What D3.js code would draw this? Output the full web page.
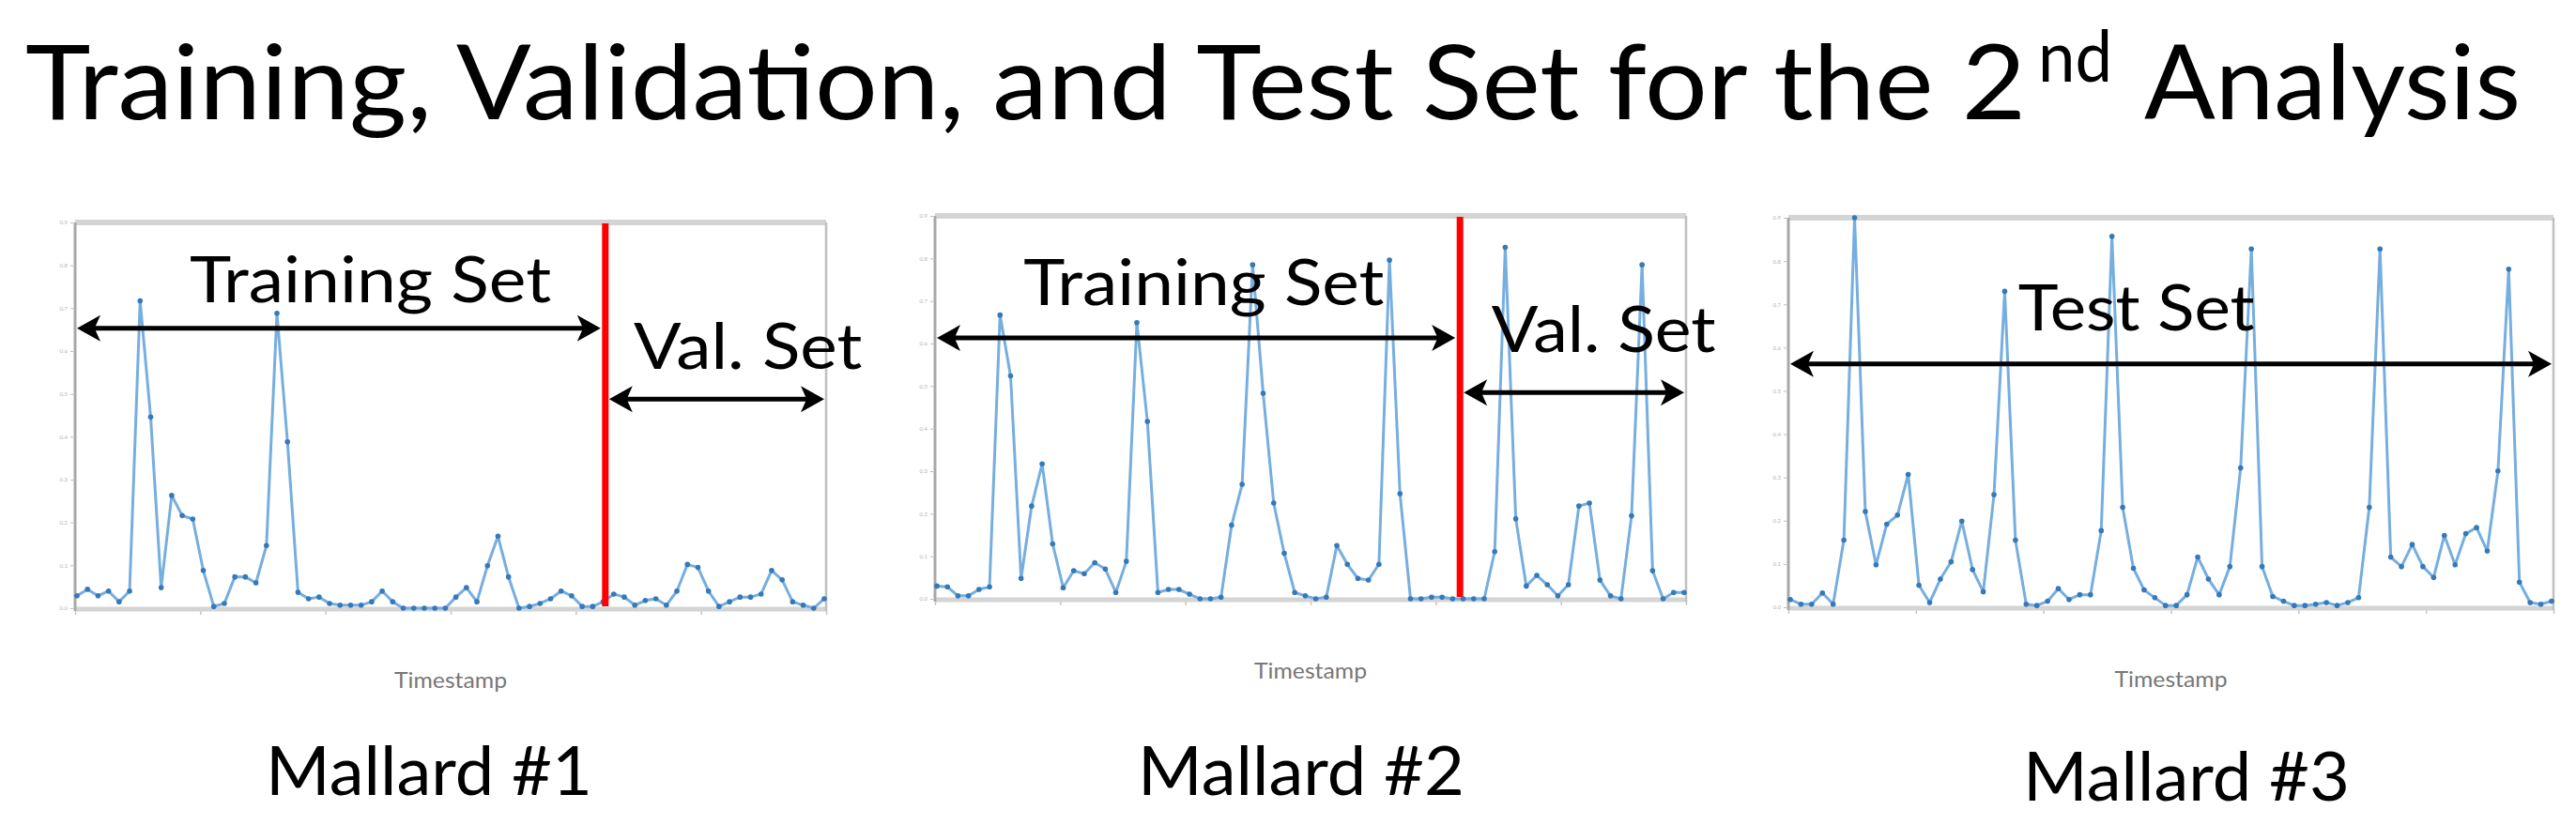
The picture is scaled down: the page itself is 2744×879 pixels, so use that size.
<!DOCTYPE html>
<html>
<head>
<meta charset="utf-8">
<script src="https://cdn.jsdelivr.net/npm/d3@7"></script>
<style>
  body { margin: 0; background: #fff; }
  text { font-family: Lato, "Open Sans", "Noto Sans", sans-serif; }
</style>
</head>
<body>
<div id="chart"></div>
<script>
// --- Données (72 points par canard, échelle 0–9) ---
const mallard1 = [0.29, 0.44, 0.29, 0.40, 0.15, 0.40, 7.17, 4.46, 0.48, 2.63, 2.16, 2.08,
  0.88, 0.04, 0.11, 0.73, 0.73, 0.59, 1.46, 6.88, 3.88, 0.37, 0.22, 0.26,
  0.11, 0.07, 0.07, 0.07, 0.15, 0.40, 0.15, 0, 0, 0, 0, 0,
  0.26, 0.48, 0.15, 0.99, 1.68, 0.73, 0, 0.04, 0.11, 0.22, 0.40, 0.29,
  0.04, 0.04, 0.15, 0.33, 0.26, 0.07, 0.18, 0.22, 0.07, 0.40, 1.02, 0.95,
  0.40, 0.04, 0.15, 0.26, 0.26, 0.33, 0.88, 0.66, 0.15, 0.07, 0, 0.22];

const mallard2 = [0.30, 0.28, 0.07, 0.07, 0.22, 0.28, 6.67, 5.24, 0.48, 2.18, 3.17, 1.29,
  0.26, 0.66, 0.59, 0.85, 0.70, 0.15, 0.88, 6.49, 4.17, 0.15, 0.22, 0.22,
  0.11, 0, 0, 0.04, 1.73, 2.69, 7.85, 4.83, 2.25, 1.07, 0.15, 0.07,
  0, 0.04, 1.25, 0.81, 0.48, 0.44, 0.81, 7.96, 2.47, 0, 0, 0.04,
  0.04, 0, 0, 0, 0, 1.11, 8.26, 1.88, 0.30, 0.55, 0.33, 0.07,
  0.33, 2.18, 2.25, 0.44, 0.07, 0, 1.95, 7.85, 0.66, 0, 0.15, 0.15];

const mallard3 = [0.18, 0.07, 0.07, 0.33, 0.07, 1.55, 9.0, 2.21, 0.98, 1.92, 2.13, 3.07,
  0.51, 0.11, 0.65, 1.05, 1.99, 0.87, 0.36, 2.60, 7.30, 1.55, 0.07, 0.04,
  0.14, 0.43, 0.18, 0.29, 0.29, 1.77, 8.57, 2.31, 0.90, 0.40, 0.22, 0.04,
  0.04, 0.29, 1.16, 0.65, 0.29, 0.94, 3.22, 8.28, 0.94, 0.25, 0.14, 0.04,
  0.04, 0.07, 0.11, 0.04, 0.11, 0.22, 2.31, 8.28, 1.16, 0.94, 1.45, 0.94,
  0.69, 1.66, 0.98, 1.70, 1.84, 1.30, 3.15, 7.81, 0.58, 0.11, 0.07, 0.14];

const panelNames = ["Mallard #1", "Mallard #2", "Mallard #3"];
const yTicks = d3.range(0, 10);          // graduations 0..9
const splitAt = [50.2, 49.7, null];      // position de la coupure (index)

// --- Mise en page des trois graphiques ---
const layout = [
  { left: 80,   right: 880,  top: 237, bottom: 648, labelX: 283,
    arrows: [{ from: 0, to: "split", y: 6.53 }, { from: "split", to: "end", y: 4.88 }],
    texts: [{ t: "Training Set", x0: 10.7, x1: 45.05, y: 7.14 },
            { t: "Val. Set", x0: 52.9, x1: 74.6, y: 5.58 }], labelY: 847 },
  { left: 996,  right: 1796, top: 230, bottom: 638, labelX: 1212,
    arrows: [{ from: 0, to: "split", y: 6.13 }, { from: "split", to: "end", y: 4.85 }],
    texts: [{ t: "Training Set", x0: 8.24, x1: 42.5, y: 6.90 },
            { t: "Val. Set", x0: 52.7, x1: 74.0, y: 5.80 }], labelY: 847 },
  { left: 1905, right: 2720, top: 232, bottom: 647, labelX: 2155,
    arrows: [{ from: 0, to: "end", y: 5.62 }],
    texts: [{ t: "Test Set", x0: 21.25, x1: 43.3, y: 6.40 }], labelY: 853 }
];

const series = [mallard1, mallard2, mallard3];

const width = 2744;
const height = 879;

const svg = d3.select("#chart")
  .append("svg")
  .attr("width", width)
  .attr("height", height)
  .style("background", "#fff");

// --- Titre ---
svg.append("text")
  .attr("x", 27).attr("y", 127)
  .attr("font-size", 111)
  .attr("textLength", 2131).attr("lengthAdjust", "spacingAndGlyphs")
  .text("Training, Validation, and Test Set for the 2");
svg.append("text")
  .attr("x", 2171).attr("y", 87)
  .attr("font-size", 76)
  .attr("textLength", 79).attr("lengthAdjust", "spacingAndGlyphs")
  .text("nd");
svg.append("text")
  .attr("x", 2284).attr("y", 127)
  .attr("font-size", 111)
  .attr("textLength", 401).attr("lengthAdjust", "spacingAndGlyphs")
  .text("Analysis");

// --- Flèche double ---
function doubleArrow(g, x1, x2, y) {
  const L = 25, Hh = 14;
  g.append("line")
    .attr("x1", x1 + L * 0.7).attr("x2", x2 - L * 0.7)
    .attr("y1", y).attr("y2", y)
    .attr("stroke", "#000").attr("stroke-width", 5);
  g.append("path")
    .attr("d", `M${x1},${y} L${x1 + L},${y - Hh} L${x1 + L * 0.75},${y} L${x1 + L},${y + Hh} Z`)
    .attr("fill", "#000");
  g.append("path")
    .attr("d", `M${x2},${y} L${x2 - L},${y - Hh} L${x2 - L * 0.75},${y} L${x2 - L},${y + Hh} Z`)
    .attr("fill", "#000");
}

layout.forEach((p, i) => {
  const values = series[i];
  const g = svg.append("g");

  const x = d3.scaleLinear().domain([0, values.length - 1]).range([p.left + 2, p.right - 2]);
  const y = d3.scaleLinear().domain([0, 9]).range([p.bottom, p.top]);
  const xt = d3.scaleLinear().domain([0, 6]).range([p.left, p.right]);

  // --- Graduations ---
  const ya = g.append("g")
    .attr("transform", `translate(${p.left - 2},0)`)
    .call(d3.axisLeft(y).tickValues(yTicks).tickSize(3).tickPadding(3).tickFormat(d => "0." + d));
  ya.select(".domain").remove();
  ya.selectAll("line").attr("stroke", "#bbb");
  ya.selectAll("text").attr("font-size", 6).attr("fill", "#b5b5b5");

  const xa = g.append("g")
    .attr("transform", `translate(0,${p.bottom + 2})`)
    .call(d3.axisBottom(xt).ticks(6).tickSize(5).tickFormat(""));
  xa.select(".domain").remove();
  xa.selectAll("line").attr("stroke", "#c4c4c4").attr("stroke-width", 1.5);

  // --- Cadre ---
  g.append("line").attr("x1", p.left).attr("x2", p.right)
    .attr("y1", p.top).attr("y2", p.top)
    .attr("stroke", "#d4d4d4").attr("stroke-width", 6);
  g.append("line").attr("x1", p.left).attr("x2", p.right)
    .attr("y1", p.bottom + 1).attr("y2", p.bottom + 1)
    .attr("stroke", "#d4d4d4").attr("stroke-width", 5);
  g.append("line").attr("x1", p.left).attr("x2", p.left)
    .attr("y1", p.top).attr("y2", p.bottom + 3)
    .attr("stroke", "#a8a8a8").attr("stroke-width", 3);
  g.append("line").attr("x1", p.right).attr("x2", p.right)
    .attr("y1", p.top).attr("y2", p.bottom + 3)
    .attr("stroke", "#c0c0c0").attr("stroke-width", 2.5);

  // --- Série ---
  g.append("path")
    .datum(values)
    .attr("fill", "none")
    .attr("stroke", "#76aedf")
    .attr("stroke-width", 3)
    .attr("stroke-linejoin", "round")
    .attr("d", d3.line().x((d, k) => x(k)).y(d => y(d)));

  g.selectAll("circle.pt")
    .data(values)
    .join("circle")
    .attr("class", "pt")
    .attr("cx", (d, k) => x(k))
    .attr("cy", d => y(d))
    .attr("r", 2.8)
    .attr("fill", "#3579b8");

  // --- Ligne de coupure rouge ---
  const s = splitAt[i];
  if (s !== null) {
    g.append("line")
      .attr("x1", x(s)).attr("x2", x(s))
      .attr("y1", p.top + 1).attr("y2", p.bottom - 2)
      .attr("stroke", "#ff0000").attr("stroke-width", 7);
  }

  // --- Flèches ---
  p.arrows.forEach(a => {
    const xa1 = a.from === "split" ? x(s) + 4 : p.left + 2;
    const xa2 = a.to === "split" ? x(s) - 5 : p.right - 2;
    doubleArrow(g, xa1, xa2, y(a.y));
  });

  // --- Textes d'annotation ---
  p.texts.forEach(t => {
    g.append("text")
      .attr("x", x(t.x0)).attr("y", y(t.y))
      .attr("font-size", 68)
      .attr("textLength", x(t.x1) - x(t.x0)).attr("lengthAdjust", "spacingAndGlyphs")
      .text(t.t);
  });

  // --- Axe x : Timestamp ---
  g.append("text")
    .attr("x", (p.left + p.right) / 2).attr("y", p.bottom + 85)
    .attr("text-anchor", "middle")
    .attr("font-size", 24)
    .attr("fill", "#777")
    .attr("textLength", 120).attr("lengthAdjust", "spacingAndGlyphs")
    .text("Timestamp");

  // --- Nom du canard ---
  g.append("text")
    .attr("x", p.labelX).attr("y", p.labelY)
    .attr("font-size", 72)
    .attr("textLength", 348).attr("lengthAdjust", "spacingAndGlyphs")
    .text(panelNames[i]);
});
</script>
</body>
</html>
